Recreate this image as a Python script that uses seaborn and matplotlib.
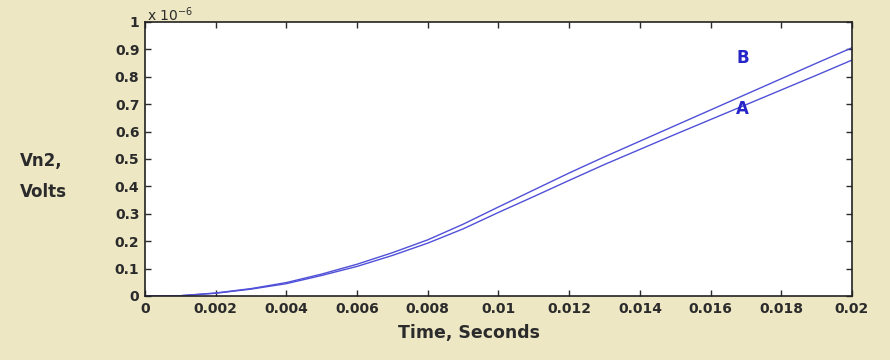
import numpy as np
import pandas as pd
import matplotlib
matplotlib.use("Agg")
import matplotlib.pyplot as plt
import seaborn as sb

# values (volts, in units of 1e-6)
time_s = [0, 0.001, 0.002, 0.003, 0.004, 0.005, 0.006, 0.007, 0.008, 0.009, 0.010,
          0.011, 0.012, 0.013, 0.014, 0.015, 0.016, 0.017, 0.018, 0.019, 0.020]
vn2_a = [0, 0.001, 0.010, 0.025, 0.045, 0.075, 0.108, 0.148, 0.193, 0.245, 0.305,
         0.363, 0.422, 0.480, 0.535, 0.590, 0.644, 0.698, 0.752, 0.806, 0.861]
vn2_b = [0, 0.001, 0.011, 0.027, 0.049, 0.080, 0.116, 0.158, 0.205, 0.262, 0.325,
         0.387, 0.449, 0.508, 0.565, 0.622, 0.679, 0.736, 0.793, 0.850, 0.906]
x_ticks = [0, 0.002, 0.004, 0.006, 0.008, 0.01, 0.012, 0.014, 0.016, 0.018, 0.02]
x_labels = ["0", "0.002", "0.004", "0.006", "0.008", "0.01", "0.012", "0.014", "0.016", "0.018", "0.02"]
y_ticks = [0, 0.1, 0.2, 0.3, 0.4, 0.5, 0.6, 0.7, 0.8, 0.9, 1]
y_labels = ["0", "0.1", "0.2", "0.3", "0.4", "0.5", "0.6", "0.7", "0.8", "0.9", "1"]

df = pd.DataFrame({"t": time_s * 2,
                   "v": vn2_a + vn2_b,
                   "curve": ["A"] * len(time_s) + ["B"] * len(time_s)})

sb.set_style("ticks")
bg = "#ede7c4"
line_col = "#5050d8"
txt_col = "#2b2b2b"

fig = plt.figure(figsize=(8.9, 3.6), dpi=100, facecolor=bg)
ax = fig.add_axes([0.1629, 0.1778, 0.7944, 0.7611])
ax.set_facecolor("white")

sb.lineplot(data=df, x="t", y="v", hue="curve", palette=[line_col, line_col],
            linewidth=1.0, legend=False, ax=ax)

ax.set_xlim(0, 0.02)
ax.set_ylim(0, 1)
ax.set_xticks(x_ticks)
ax.set_xticklabels(x_labels)
ax.set_yticks(y_ticks)
ax.set_yticklabels(y_labels)
ax.tick_params(direction="in", length=4, width=1, colors=txt_col,
               top=True, right=True, labelsize=10, pad=4)
for lab in ax.get_xticklabels() + ax.get_yticklabels():
    lab.set_fontweight("bold")
for sp in ax.spines.values():
    sp.set_visible(True)
    sp.set_color("#222222")
    sp.set_linewidth(1.2)
ax.set_xlabel("")
ax.set_ylabel("")

# curve labels
ax.text(0.0169, 0.869, "B", color="#2626c8", fontsize=12, fontweight="bold",
        ha="center", va="center")
ax.text(0.0169, 0.682, "A", color="#2626c8", fontsize=12, fontweight="bold",
        ha="center", va="center")

# exponent marker
fig.text(0.1650, 0.958, r"x 10$^{-6}$", fontsize=10, color=txt_col, ha="left", va="center")

# axis titles
fig.text(0.022, 0.553, "Vn2,", fontsize=12, fontweight="bold", color=txt_col, ha="left", va="center")
fig.text(0.022, 0.467, "Volts", fontsize=12, fontweight="bold", color=txt_col, ha="left", va="center")
fig.text(0.527, 0.075, "Time, Seconds", fontsize=12.5, fontweight="bold", color=txt_col,
         ha="center", va="center")

fig.savefig("out.png", dpi=100, facecolor=bg)
